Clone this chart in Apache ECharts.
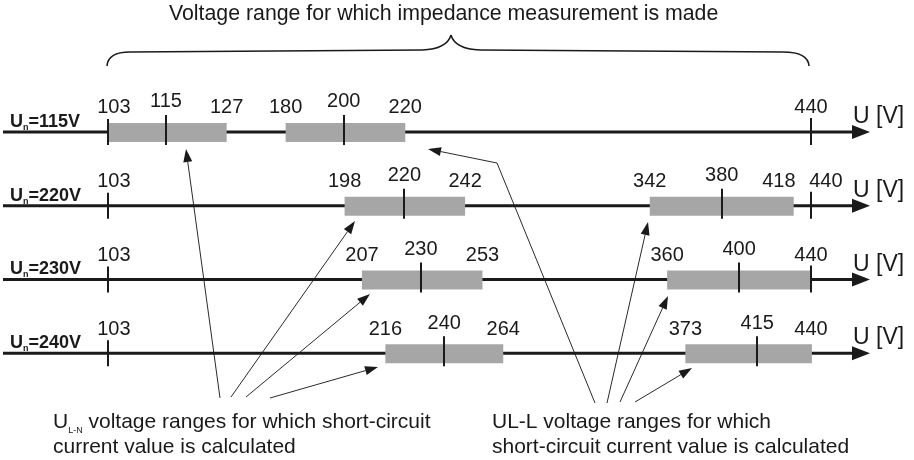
<!DOCTYPE html>
<html>
<head>
<meta charset="utf-8">
<script src="https://cdn.jsdelivr.net/npm/echarts@6/dist/echarts.min.js"></script>
<style>
html, body { margin: 0; padding: 0; background: #fff; }
#chart { width: 914px; height: 460px; }
</style>
</head>
<body>
<div id="chart"></div>
<script>
// nominal voltage of each row
var nominals = ['115', '220', '230', '240'];
// U L-N ranges
var lnLow = [103, 198, 207, 216];
var lnNom = [115, 220, 230, 240];
var lnHigh = [127, 242, 253, 264];
// U L-L ranges
var llLow = [180, 342, 360, 373];
var llNom = [200, 380, 400, 415];
var llHigh = [220, 418, 440, 440];
// impedance measurement limits
var limitLow = 103;
var limitHigh = 440;
var limitHighTick = [true, true, true, false];

// place of each value on the U axis (drawing is not to scale), 0..100
var lnLowAt = [12.1, 39.4, 41.4, 44.1];
var lnNomAt = [18.8, 46.3, 48.2, 50.9];
var lnHighAt = [25.8, 53.3, 55.3, 57.7];
var llLowAt = [32.6, 74.6, 76.6, 78.7];
var llNomAt = [39.3, 82.9, 84.9, 87.0];
var llHighAt = [46.4, 91.2, 93.2, 93.3];
var limitLowAt = 12.1;
var limitHighAt = 93.2;

var INK = '#1a1a1a';
var BOX = '#a6a6a6';
var FONT = "'Liberation Sans', Arial, sans-serif";

var chart = echarts.init(document.getElementById('chart'));

function renderRow(params, api) {
    var r = params.dataIndex;
    var y = api.coord([0, r])[1];
    var px = function (v) { return api.coord([v, r])[0]; };
    var x0 = px(0), xEnd = px(100);
    var kids = [];

    // axis with arrow
    kids.push({ type: 'line', shape: { x1: x0, y1: y, x2: xEnd - 14, y2: y }, style: { stroke: INK, lineWidth: 3 } });
    kids.push({ type: 'polygon', shape: { points: [[xEnd - 18, y - 7], [xEnd, y], [xEnd - 18, y + 7]] }, style: { fill: INK } });

    // ranges
    [[lnLowAt[r], lnHighAt[r]], [llLowAt[r], llHighAt[r]]].forEach(function (b) {
        kids.push({ type: 'rect', shape: { x: px(b[0]), y: y - 9, width: px(b[1]) - px(b[0]), height: 19 }, style: { fill: BOX } });
    });

    // ticks
    var ticks = [[limitLowAt, 13], [lnNomAt[r], 17], [llNomAt[r], 17]];
    if (limitHighTick[r]) ticks.push([limitHighAt, 14]);
    ticks.forEach(function (t) {
        var x = Math.round(px(t[0]));
        kids.push({ type: 'line', shape: { x1: x, y1: y - t[1], x2: x, y2: y + 13 }, style: { stroke: INK, lineWidth: 2 } });
    });

    // value labels
    var labs = [{ v: limitLow, cx: px(limitLowAt) + 6, lift: 24 }];
    if (lnLow[r] !== limitLow) labs.push({ v: lnLow[r], cx: px(lnLowAt[r]), lift: 24 });
    labs.push({ v: lnNom[r], cx: px(lnNomAt[r]), lift: 30 });
    labs.push({ v: lnHigh[r], cx: px(lnHighAt[r]), lift: 24 });
    labs.push({ v: llLow[r], cx: px(llLowAt[r]), lift: 24 });
    labs.push({ v: llNom[r], cx: px(llNomAt[r]), lift: 30 });
    if (llHigh[r] !== limitHigh) labs.push({ v: llHigh[r], cx: px(llHighAt[r]), lift: 24 });
    labs.push({ v: limitHigh, cx: px(limitHighAt), lift: 24 });
    labs.sort(function (a, b) { return a.cx - b.cx; });
    for (var i = 1; i < labs.length; i++) {
        var gap = labs[i].cx - labs[i - 1].cx;
        if (gap < 47) {
            var d = (47 - gap) / 2;
            labs[i - 1].cx -= d;
            labs[i].cx += d;
        }
    }
    labs.forEach(function (l) {
        kids.push({
            type: 'text',
            style: { legacy: false, text: String(l.v), x: l.cx, y: y - l.lift, align: 'center', verticalAlign: 'middle', fill: INK, font: '20px ' + FONT }
        });
    });

    // unit
    kids.push({
        type: 'text',
        style: { legacy: false, text: 'U [V]', x: xEnd - 17, y: y - 15, align: 'left', verticalAlign: 'middle', fill: INK, font: '23px ' + FONT }
    });

    // row name
    kids.push({
        type: 'text',
        style: {
            legacy: false,
            text: '{a|U}{b|n}{a|=' + nominals[r] + 'V}',
            x: x0 + 7, y: y - 10, align: 'left', verticalAlign: 'middle',
            rich: {
                a: { fontSize: 18, fontWeight: 'bold', fontFamily: FONT, fill: INK, lineHeight: 20 },
                b: { fontSize: 9, fontWeight: 'bold', fontFamily: FONT, fill: INK, lineHeight: 6, verticalAlign: 'bottom' }
            }
        }
    });

    return { type: 'group', children: kids };
}

// annotation arrows (pixel layout)
function arrow(pts) {
    var a = pts[pts.length - 2], b = pts[pts.length - 1];
    var dx = b[0] - a[0], dy = b[1] - a[1];
    var len = Math.sqrt(dx * dx + dy * dy), ux = dx / len, uy = dy / len;
    var L = 13, W = 4.5;
    var base = [b[0] - ux * L, b[1] - uy * L];
    var line = pts.slice(0, pts.length - 1).concat([base]);
    return [
        { type: 'polyline', shape: { points: line }, style: { stroke: '#2a2a2a', lineWidth: 1, fill: null } },
        { type: 'polygon', shape: { points: [b, [base[0] - uy * W, base[1] + ux * W], [base[0] + uy * W, base[1] - ux * W]] }, style: { fill: '#1a1a1a' } }
    ];
}

var arrowPaths = [
    [[220, 398], [186, 149]],
    [[231, 397], [355, 221]],
    [[246, 397], [370, 294]],
    [[270, 398], [378, 367]],
    [[595, 403], [497, 163], [428, 149]],
    [[607, 403], [648, 222]],
    [[620, 402], [668, 296]],
    [[635, 402], [692, 368]]
];
var graphics = [];
arrowPaths.forEach(function (p) { graphics = graphics.concat(arrow(p)); });

// brace over the measuring range
var braceStyle = { fill: null, stroke: '#1a1a1a', lineWidth: 1.5 };
graphics.push(
    { type: 'bezierCurve', shape: { x1: 107, y1: 66, cpx1: 108, cpy1: 52, x2: 130, y2: 52 }, style: braceStyle },
    { type: 'line', shape: { x1: 130, y1: 52, x2: 422, y2: 50 }, style: braceStyle },
    { type: 'bezierCurve', shape: { x1: 422, y1: 50, cpx1: 447, cpy1: 49, x2: 451, y2: 35 }, style: braceStyle },
    { type: 'bezierCurve', shape: { x1: 451, y1: 35, cpx1: 455, cpy1: 49, x2: 480, y2: 50 }, style: braceStyle },
    { type: 'line', shape: { x1: 480, y1: 50, x2: 783, y2: 52 }, style: braceStyle },
    { type: 'bezierCurve', shape: { x1: 783, y1: 52, cpx1: 808, cpy1: 52, x2: 809, y2: 66 }, style: braceStyle }
);
graphics.push({
    type: 'text', x: 169, y: 14,
    style: { legacy: false, text: 'Voltage range for which impedance measurement is made', align: 'left', verticalAlign: 'middle', fill: INK, font: '21.3px ' + FONT }
});
graphics.push({
    type: 'text', x: 53, y: 410,
    style: {
        legacy: false,
        text: '{u|U}{s|L-N}{t| voltage ranges for which short-circuit}\n{t|current value is calculated}',
        align: 'left', verticalAlign: 'top',
        rich: {
            u: { fontSize: 21, fontFamily: FONT, fill: INK, lineHeight: 25 },
            s: { fontSize: 9, fontFamily: FONT, fill: INK, lineHeight: 14, verticalAlign: 'bottom' },
            t: { fontSize: 21, fontFamily: FONT, fill: INK, lineHeight: 25 }
        }
    }
});
graphics.push({
    type: 'text', x: 492, y: 410,
    style: {
        legacy: false,
        text: 'UL-L voltage ranges for which\nshort-circuit current value is calculated',
        align: 'left', verticalAlign: 'top', fill: INK, font: '21px ' + FONT, lineHeight: 25
    }
});

chart.setOption({
    animation: false,
    grid: { left: 3, right: 44, top: 95, bottom: 70 },
    xAxis: { type: 'value', min: 0, max: 100, show: false },
    yAxis: { type: 'value', min: -0.5, max: 3.5, inverse: true, show: false },
    series: [{
        type: 'custom',
        renderItem: renderRow,
        encode: { x: 0, y: 1 },
        data: nominals.map(function (n, i) { return [0, i]; })
    }],
    graphic: graphics
});
</script>
</body>
</html>
